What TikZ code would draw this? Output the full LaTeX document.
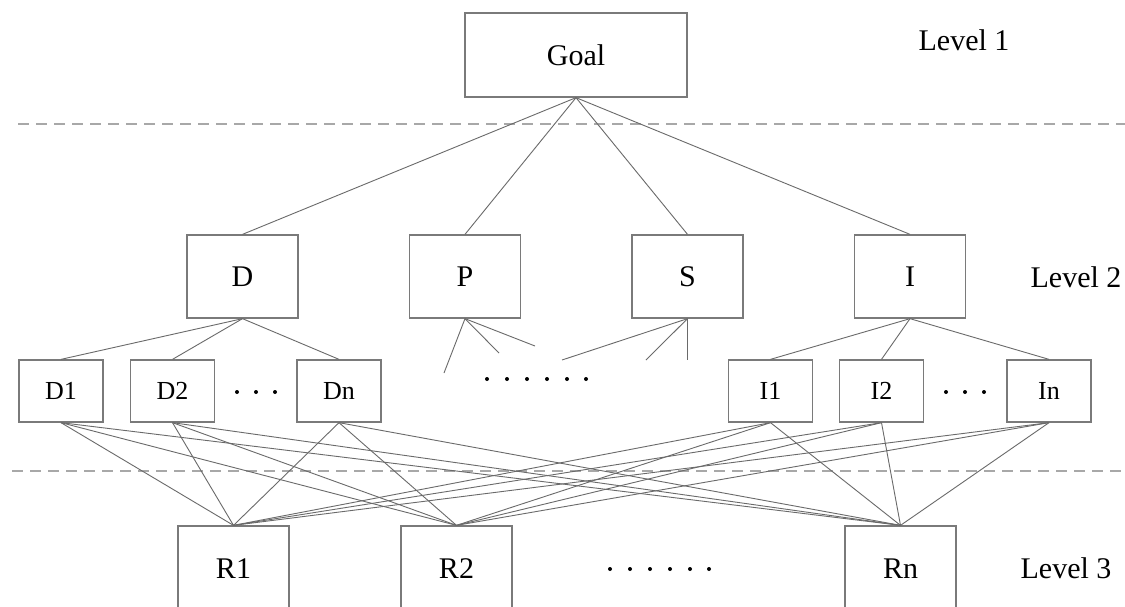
\documentclass[tikz,border=0pt]{standalone}
\usepackage{fontspec}
\setmainfont{Liberation Serif}
\definecolor{boxgray}{HTML}{7A7A7A}
\definecolor{linegray}{HTML}{6A6A6A}
\definecolor{dashgray}{HTML}{A8A8A8}
\tikzset{
  bigbox/.style={draw=boxgray, line width=1.3pt, minimum width=111pt, minimum height=83pt, inner sep=0pt, font=\fontsize{30}{36}\selectfont, text=black},
  smallbox/.style={draw=boxgray, line width=1.3pt, minimum width=84pt, minimum height=62pt, inner sep=0pt, font=\fontsize{26}{31}\selectfont, text=black},
  lvl/.style={font=\fontsize{30}{36}\selectfont, inner sep=0pt, text=black},
  conn/.style={draw=linegray, line width=0.9pt},
  sep/.style={draw=dashgray, line width=1.8pt, dash pattern=on 11pt off 7pt},
  dotmark/.style={fill=black, draw=none}
}
\begin{document}
\begin{tikzpicture}[x=1pt, y=-1pt]
\clip (0,0) rectangle (1125,606);
\fill[white] (0,0) rectangle (1125,606);

% separators
\draw[sep] (18,124) -- (1125,124);
\draw[sep] (12,471) -- (1125,471);

% level 1
\node[bigbox, minimum width=222pt, minimum height=84pt] (goal) at (576,55) {Goal};
\node[lvl] (l1) at (964,40) {Level 1};

% level 2
\node[bigbox] (D) at (242.5,276.5) {D};
\node[bigbox] (P) at (465,276.5) {P};
\node[bigbox] (S) at (687.5,276.5) {S};
\node[bigbox] (I) at (910,276.5) {I};
\node[lvl] (l2) at (1076,277) {Level 2};

% sub criteria
\node[smallbox] (D1) at (61,391) {D1};
\node[smallbox] (D2) at (172.5,391) {D2};
\node[smallbox] (Dn) at (339,391) {Dn};
\node[smallbox] (I1) at (770.5,391) {I1};
\node[smallbox] (I2) at (881.5,391) {I2};
\node[smallbox] (In) at (1049,391) {In};

% level 3
\node[bigbox, minimum height=86pt] (R1) at (233.5,569) {R1};
\node[bigbox, minimum height=86pt] (R2) at (456.5,569) {R2};
\node[bigbox, minimum height=86pt] (Rn) at (900.5,569) {Rn};
\node[lvl] (l3) at (1066,568) {Level 3};

% goal connectors
\foreach \n in {D,P,S,I} \draw[conn] (goal.south) -- (\n.north);

% D and I children
\foreach \n in {D1,D2,Dn} \draw[conn] (D.south) -- (\n.north);
\foreach \n in {I1,I2,In} \draw[conn] (I.south) -- (\n.north);

% P and S stubs
\coordinate (p1) at (444,373);
\coordinate (p2) at (499,353);
\coordinate (p3) at (535,346);
\coordinate (s1) at (562,360);
\coordinate (s2) at (646,360);
\coordinate (s3) at (687.5,360);
\foreach \c in {p1,p2,p3} \draw[conn] (P.south) -- (\c);
\foreach \c in {s1,s2,s3} \draw[conn] (S.south) -- (\c);

% full bipartite to alternatives
\foreach \a in {D1,D2,Dn,I1,I2,In}
  \foreach \r in {R1,R2,Rn}
    \draw[conn] (\a.south) -- (\r.north);

% ellipsis dots
\foreach \x in {237,256,275} \fill[dotmark] (\x,392) circle (2pt);
\foreach \x in {946,965,984} \fill[dotmark] (\x,392) circle (2pt);
\foreach \x in {487,507,527,547,567,586} \fill[dotmark] (\x,379) circle (2pt);
\foreach \x in {610,630,650,670,690,709} \fill[dotmark] (\x,569) circle (2pt);
\end{tikzpicture}
\end{document}
